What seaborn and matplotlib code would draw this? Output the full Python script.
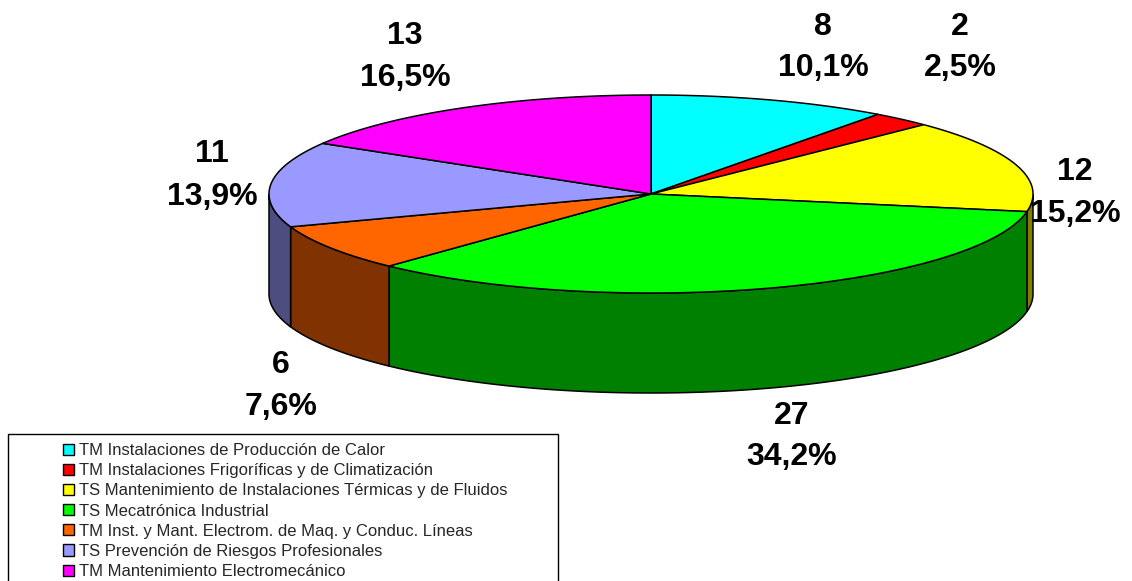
import numpy as np
import matplotlib
matplotlib.use("Agg")
import matplotlib.pyplot as plt
from matplotlib.patches import Polygon, Rectangle, Patch
from matplotlib.colors import to_rgb
import seaborn as sns

# ---- data ----
categories = [
    "TM Instalaciones de Producción de Calor",
    "TM Instalaciones Frigoríficas y de Climatización",
    "TS Mantenimiento de Instalaciones Térmicas y de Fluidos",
    "TS Mecatrónica Industrial",
    "TM Inst. y Mant. Electrom. de Maq. y Conduc. Líneas",
    "TS Prevención de Riesgos Profesionales",
    "TM Mantenimiento Electromecánico",
]
counts = [8, 2, 12, 27, 6, 11, 13]
slice_colors = ["#00FFFF", "#FF0000", "#FFFF00", "#00FF00", "#FF6600", "#9999FF", "#FF00FF"]

# ---- layout (pixel space of the figure) ----
W, H = 1132, 581
cx, cy = 651, 194          # centre of the top face
rx, ry = 382, 99           # half axes of the top ellipse
depth = 100                # thickness of the disc
# label anchors (centre of the count line, centre of the percent line)
label_pos = [(823, 27, 68), (960, 27, 68), (1075, 172, 214), (792, 416, 457),
             (281, 365, 407), (212, 154, 197), (405, 36, 78)]

sns.set_theme(style="white")
plt.rcParams["font.family"] = ["Liberation Sans", "DejaVu Sans"]
palette = sns.color_palette(slice_colors)

fig = plt.figure(figsize=(W / 100, H / 100), dpi=100)
ax = fig.add_axes([0, 0, 1, 1])
ax.set_xlim(0, W)
ax.set_ylim(H, 0)
ax.axis("off")

total = sum(counts)
fractions = np.array(counts) / total
# clockwise from 12 o'clock
ends = 90 - 360 * np.cumsum(fractions)
starts = np.concatenate([[90], ends[:-1]])


def ellipse_pts(t1, t2, dy=0.0, n=200):
    t = np.radians(np.linspace(t1, t2, n))
    return np.column_stack([cx + rx * np.cos(t), cy - ry * np.sin(t) + dy])


def shade(c, k=0.5):
    r, g, b = to_rgb(c)
    return (r * k, g * k, b * k)


# outer walls: only the front half (angles between -180 and 0) is visible
for s, e, col in zip(starts, ends, palette):
    for off in (0, -360):
        hi, lo = s + off, e + off
        a1, a2 = min(hi, 0), max(lo, -180)
        if a1 > a2:
            top = ellipse_pts(a1, a2)
            bot = ellipse_pts(a2, a1, dy=depth)
            ax.add_patch(Polygon(np.vstack([top, bot]), closed=True,
                                 facecolor=shade(col), edgecolor="black",
                                 linewidth=1.1, zorder=2))

# top faces
for s, e, col in zip(starts, ends, palette):
    arc = ellipse_pts(s, e)
    ax.add_patch(Polygon(np.vstack([[cx, cy], arc]), closed=True,
                         facecolor=col, edgecolor="black",
                         linewidth=1.1, zorder=3))

# value labels
for cnt, frac, (lx, y1, y2) in zip(counts, fractions, label_pos):
    pct = f"{frac * 100:.1f}%".replace(".", ",")
    ax.text(lx, y1, f"{cnt}", ha="center", va="center",
            fontsize=23, fontweight="bold", color="black", zorder=5)
    ax.text(lx, y2, pct, ha="center", va="center",
            fontsize=23, fontweight="bold", color="black", zorder=5)

# legend frame and entries
ax.add_patch(Rectangle((8, 434), 550, 200, facecolor="white",
                       edgecolor="black", linewidth=1.0, zorder=4))
handles = [Patch(facecolor=c, edgecolor="black", linewidth=1.0) for c in palette]
leg = ax.legend(handles, categories, loc="upper left",
                bbox_to_anchor=(63, 443), bbox_transform=ax.transData,
                frameon=False, fontsize=12, borderpad=0, borderaxespad=0,
                handlelength=0.65, handleheight=0.65, handletextpad=0.3,
                labelspacing=0.31)
leg.set_zorder(6)

fig.savefig("out.png", dpi=100)
